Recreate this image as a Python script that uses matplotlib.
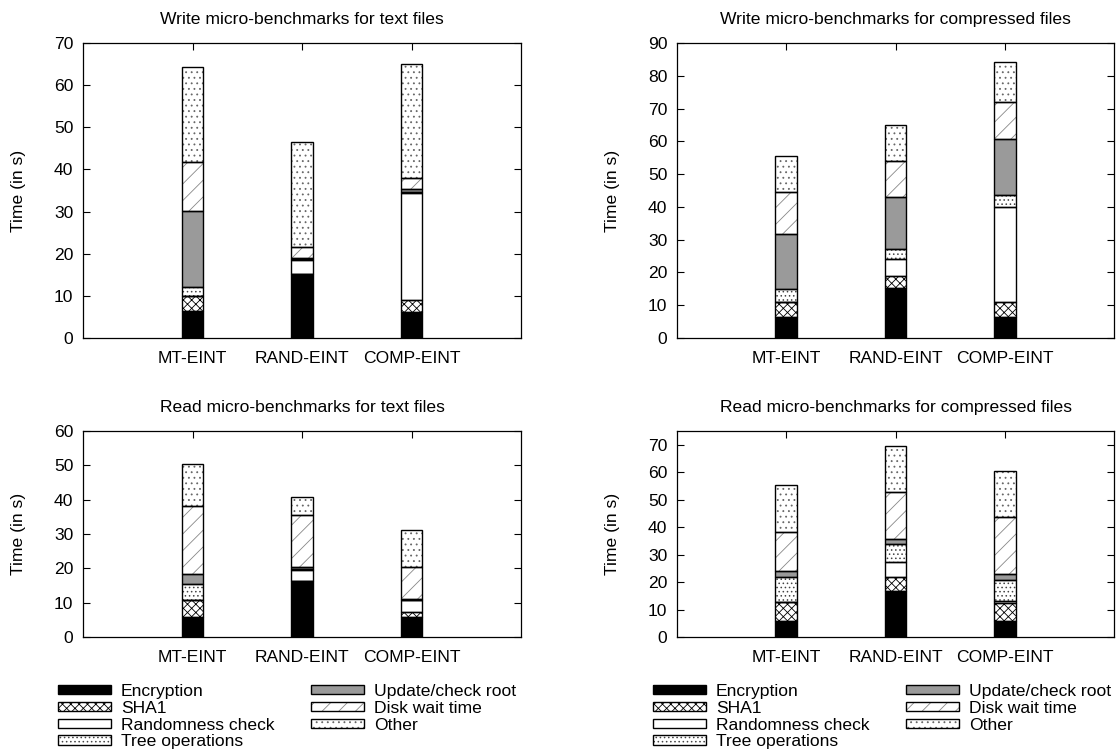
import matplotlib
matplotlib.use("Agg")
import matplotlib.pyplot as plt
import numpy as np
from matplotlib.patches import Patch
from matplotlib.legend_handler import HandlerTuple

plt.rcParams["font.family"] = ["Liberation Sans", "DejaVu Sans"]
plt.rcParams["font.size"] = 12.6
plt.rcParams["hatch.linewidth"] = 0.6

variants = ["MT-EINT", "RAND-EINT", "COMP-EINT"]
components = ["Encryption", "SHA1", "Randomness check", "Tree operations",
              "Update/check root", "Disk wait time", "Other"]

# Per-component times (s) for MT-EINT, RAND-EINT, COMP-EINT
write_text = {
    "Encryption":        [6.3, 15.2, 6.1],
    "SHA1":              [3.7, 0.0, 3.0],
    "Randomness check":  [0.0, 3.2, 25.2],
    "Tree operations":   [2.2, 0.3, 0.4],
    "Update/check root": [17.9, 0.4, 0.7],
    "Disk wait time":    [11.7, 2.6, 2.6],
    "Other":             [22.6, 24.7, 27.0],
}
write_comp = {
    "Encryption":        [6.5, 15.3, 6.5],
    "SHA1":              [4.5, 3.6, 4.5],
    "Randomness check":  [0.0, 5.3, 29.1],
    "Tree operations":   [3.9, 3.0, 3.4],
    "Update/check root": [16.8, 15.7, 17.3],
    "Disk wait time":    [12.9, 11.0, 11.2],
    "Other":             [10.8, 11.2, 12.1],
}
read_text = {
    "Encryption":        [5.7, 16.4, 5.9],
    "SHA1":              [5.1, 0.0, 1.3],
    "Randomness check":  [0.0, 3.1, 3.5],
    "Tree operations":   [4.7, 0.3, 0.2],
    "Update/check root": [2.8, 0.6, 0.3],
    "Disk wait time":    [19.8, 15.2, 9.3],
    "Other":             [12.3, 5.2, 10.7],
}
read_comp = {
    "Encryption":        [5.9, 16.8, 5.9],
    "SHA1":              [6.7, 5.1, 6.6],
    "Randomness check":  [0.0, 5.3, 0.6],
    "Tree operations":   [9.3, 6.8, 7.7],
    "Update/check root": [2.2, 1.8, 2.1],
    "Disk wait time":    [14.0, 17.1, 20.7],
    "Other":             [17.3, 16.6, 16.7],
}

panels = [
    (write_text, "Write micro-benchmarks for text files", 70, 10),
    (write_comp, "Write micro-benchmarks for compressed files", 90, 10),
    (read_text, "Read micro-benchmarks for text files", 60, 10),
    (read_comp, "Read micro-benchmarks for compressed files", 75, 10),
]

# face colour, hatch pattern, hatch colour
styles = {
    "Encryption":        ("black", "", "black"),
    "SHA1":              ("white", "xxxx", "black"),
    "Randomness check":  ("white", "", "black"),
    "Tree operations":   ("white", "....", "#444444"),
    "Update/check root": ("#9a9a9a", "", "black"),
    "Disk wait time":    ("white", "//", "#888888"),
    "Other":             ("white", "...", "#666666"),
}

W, H = 1117, 753
fig = plt.figure(figsize=(W / 100, H / 100), dpi=100)

boxes = [
    (83, 521, 43, 338),
    (677, 1114, 43, 338),
    (83, 521, 431, 637),
    (677, 1114, 431, 637),
]

x = np.arange(len(variants))
bw = 0.2
axes = []
for (data, title, ymax, step), (l, r, t, b) in zip(panels, boxes):
    ax = fig.add_axes([l / W, 1 - b / H, (r - l) / W, (b - t) / H])
    bottom = np.zeros(len(variants))
    for comp in components:
        vals = np.array(data[comp])
        face, hatch, hcol = styles[comp]
        ax.bar(x, vals, bw, bottom=bottom, color=face, edgecolor=hcol,
               hatch=hatch, linewidth=0, zorder=2)
        ax.bar(x, vals, bw, bottom=bottom, fill=False, edgecolor="black",
               linewidth=1.0, zorder=3)
        bottom += vals
    ax.set_xlim(-1, 3)
    ax.set_ylim(0, ymax)
    ax.set_yticks(np.arange(0, ymax + 0.1, step))
    ax.set_xticks(x)
    ax.set_xticklabels(variants)
    ax.tick_params(direction="in", length=5, width=0.8, top=True, right=True,
                   bottom=False)
    ax.tick_params(axis="y", pad=7)
    ax.tick_params(axis="x", pad=9)
    ax.set_ylabel("Time (in s)", labelpad=20)
    ax.set_title(title, pad=14, fontsize=12.6)
    for s in ax.spines.values():
        s.set_linewidth(0.9)
    axes.append(ax)


def legend_handle(comp):
    face, hatch, hcol = styles[comp]
    fillp = Patch(facecolor=face, edgecolor=hcol, hatch=hatch, linewidth=0)
    edge = Patch(fill=False, edgecolor="black", linewidth=1.0)
    return (fillp, edge)


handles = [legend_handle(c) for c in components]
for lx in (58, 653):
    fig.legend(handles, components, loc="upper left",
               bbox_to_anchor=(lx / W, 1 - 684 / H),
               ncol=2, frameon=False, borderpad=0, borderaxespad=0,
               handlelength=3.0, handleheight=0.45, handletextpad=0.6,
               labelspacing=0.1, columnspacing=2.1,
               handler_map={tuple: HandlerTuple(ndivide=1, pad=0)})

fig.savefig("out.png", dpi=100)
